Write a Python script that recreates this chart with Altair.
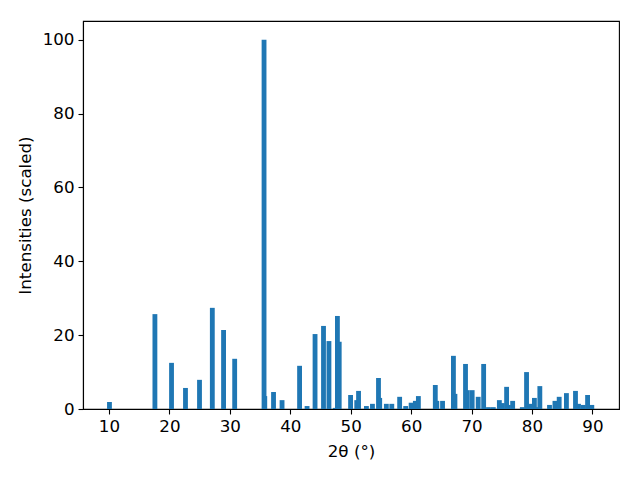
import altair as alt
import pandas as pd

two_theta = [10.08, 17.6, 20.35, 22.66, 24.98, 27.1, 28.96, 30.8, 35.66, 35.78,
             37.23, 38.64, 41.54, 42.78, 44.1, 45.5, 46.4, 47.45, 47.8, 48.1,
             49.98, 51.0, 51.3, 52.6, 53.6, 54.6, 54.8, 55.9, 56.8, 58.1,
             59.1, 60.0, 60.7, 61.2, 64.0, 64.25, 65.2, 67.0, 67.25, 69.0,
             69.3, 70.1, 71.1, 72.0, 72.8, 73.6, 74.6, 75.1, 75.8, 76.1,
             76.8, 78.4, 79.1, 79.6, 80.4, 80.7, 81.3, 82.9, 83.8, 84.5,
             85.7, 87.2, 87.7, 88.5, 89.2, 89.9]
intensity = [1.9, 25.7, 12.5, 5.7, 7.9, 27.4, 21.4, 13.6, 100.0, 3.5,
             4.6, 2.4, 11.7, 0.8, 20.3, 22.5, 18.4, 0.3, 25.2, 18.2,
             3.8, 2.4, 4.9, 0.8, 1.4, 8.4, 3.0, 1.4, 1.4, 3.3,
             0.8, 1.7, 2.2, 3.5, 6.5, 2.2, 2.2, 14.4, 4.1, 12.2,
             5.1, 5.1, 3.3, 12.2, 0.5, 0.5, 2.4, 1.6, 6.0, 1.1,
             2.2, 0.5, 10.0, 1.4, 3.0, 0.5, 6.2, 1.1, 2.2, 3.3,
             4.3, 4.9, 1.4, 1.1, 3.8, 1.1]

x_ticks = [10, 20, 30, 40, 50, 60, 70, 80, 90]
y_ticks = [0, 20, 40, 60, 80, 100]

df = pd.DataFrame({"tt": two_theta, "inten": intensity})

FONT = "DejaVu Sans"

chart = (
    alt.Chart(df)
    .transform_calculate(x0="datum.tt - 0.4", x1="datum.tt + 0.4")
    .mark_bar(color="#1f77b4", clip=True)
    .encode(
        x=alt.X("x0:Q",
                scale=alt.Scale(domain=[5.7, 94.4], nice=False, zero=False),
                axis=alt.Axis(values=x_ticks, title="2θ (°)", grid=False,
                              format="d")),
        x2="x1:Q",
        y=alt.Y("inten:Q",
                scale=alt.Scale(domain=[0, 105.1], nice=False),
                axis=alt.Axis(values=y_ticks, title="Intensities (scaled)",
                              grid=False, format="d")),
        y2=alt.datum(0),
    )
    .properties(width=536, height=388,
                autosize=alt.AutoSizeParams(type="none"),
                padding={"left": 75, "top": 13, "right": 13, "bottom": 63})
    .configure_view(stroke="black", strokeWidth=1.1)
    .configure_axis(
        domainColor="black", domainWidth=1.1,
        tickColor="black", tickSize=5, tickWidth=1.1,
        labelFont=FONT, labelFontSize=16.7, labelColor="black", labelPadding=4,
        titleFont=FONT, titleFontSize=16.7, titleColor="black",
        titleFontWeight="normal",
    )
    .configure_axisX(titlePadding=9)
    .configure_axisY(titlePadding=8)
)

chart.save("out.html", embed_options={"renderer": "svg", "actions": False})
